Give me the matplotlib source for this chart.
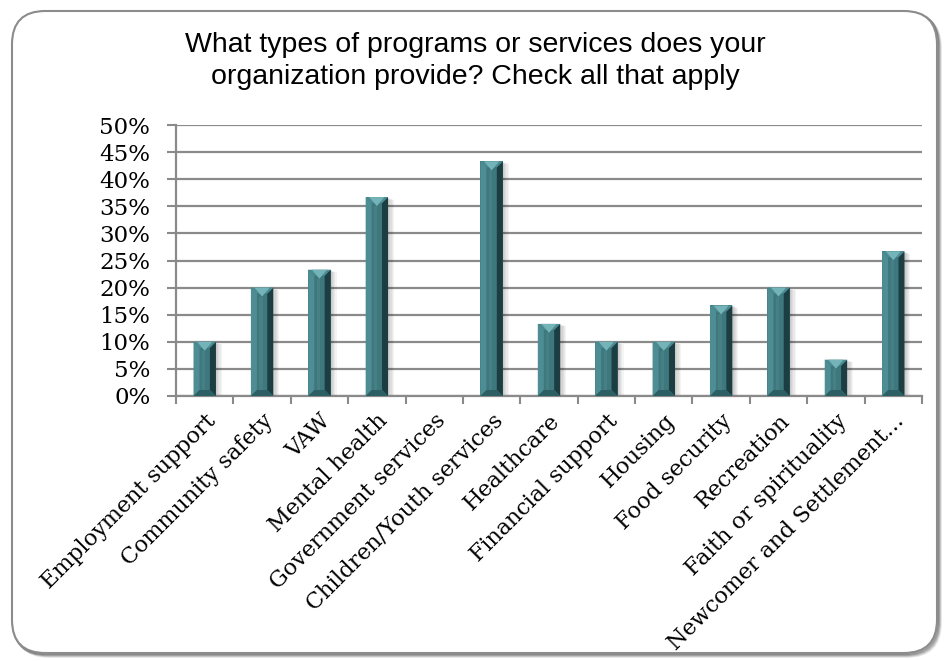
import numpy as np
import matplotlib
matplotlib.use("Agg")
import matplotlib.pyplot as plt
from matplotlib.patches import FancyBboxPatch, Polygon
from matplotlib.ticker import PercentFormatter

categories = ["Employment support", "Community safety", "VAW", "Mental health",
              "Government services", "Children/Youth services", "Healthcare",
              "Financial support", "Housing", "Food security", "Recreation",
              "Faith or spirituality", "Newcomer and Settlement..."]
values = [0.100, 0.200, 0.233, 0.367, 0.0, 0.433, 0.133,
          0.100, 0.100, 0.167, 0.200, 0.067, 0.267]
yticks = np.arange(0, 0.51, 0.05)

W, H = 951, 661
fig = plt.figure(figsize=(W / 100, H / 100), dpi=100)
fig.patch.set_facecolor("white")

# rounded chart border with a soft drop shadow
for k in range(6, 0, -1):
    sh = FancyBboxPatch((12 / W + k * 0.6 / W, 8 / H - k * 0.6 / H), 925 / W, 642 / H,
                        boxstyle="round,pad=0,rounding_size=0.035",
                        transform=fig.transFigure, facecolor="none",
                        edgecolor=(0, 0, 0, 0.06 + 0.02 * (6 - k)), linewidth=2,
                        mutation_aspect=W / H, zorder=-3)
    fig.patches.append(sh)
frame = FancyBboxPatch((12 / W, 8 / H), 925 / W, 642 / H,
                       boxstyle="round,pad=0,rounding_size=0.035",
                       transform=fig.transFigure, facecolor="white",
                       edgecolor="#8c8c8c", linewidth=1.5, mutation_aspect=W / H,
                       zorder=-2)
fig.patches.append(frame)

ax = fig.add_axes([176 / W, 1 - 396 / H, (922 - 176) / W, (396 - 125) / H])
ax.set_facecolor("none")
x = np.arange(len(categories))
bw = 0.39
ax.set_xlim(-0.5, len(categories) - 0.5)
ax.set_ylim(0, 0.5)

# pixel -> data unit conversions for the bevel drawing
px_x = (len(categories)) / (922 - 176)
px_y = 0.5 / (396 - 125)
bx, by = 6 * px_x, 6 * px_y

for xi, v in zip(x, values):
    if v <= 0:
        continue
    l, r = xi - bw / 2, xi + bw / 2
    # soft shadow to the right
    for k in range(1, 6):
        ax.bar(xi + k * 1.2 * px_x, v - k * 0.5 * px_y, width=bw, bottom=0,
               color=(0, 0, 0, 0.045), linewidth=0, zorder=2)
    ax.bar(xi, v, width=bw, color="#3c787e", linewidth=0, zorder=3)
    # left face, right face
    ax.add_patch(Polygon([(l, 0), (l + bx, by), (l + bx, v - by), (l, v)],
                         closed=True, facecolor="#4d8d93", lw=0, zorder=4))
    ax.add_patch(Polygon([(r, 0), (r - bx, by), (r - bx, v - by), (r, v)],
                         closed=True, facecolor="#1c3d42", lw=0, zorder=4))
    # top bevel with light triangle
    ax.add_patch(Polygon([(l, v), (r, v), (r - bx, v - by), (l + bx, v - by)],
                         closed=True, facecolor="#4b8b91", lw=0, zorder=4))
    ax.add_patch(Polygon([(l + bx * 0.6, v), (r - bx * 0.6, v), (xi, v - 1.5 * by)],
                         closed=True, facecolor="#74b3b8", lw=0, zorder=5))
    # bottom bevel
    ax.add_patch(Polygon([(l, 0), (r, 0), (r - bx, by), (l + bx, by)],
                         closed=True, facecolor="#2c5f64", lw=0, zorder=4))
    # inner highlight stripe
    ax.add_patch(Polygon([(xi - bw * 0.12, by), (xi + bw * 0.02, by),
                          (xi + bw * 0.02, v - 1.5 * by), (xi - bw * 0.12, v - 1.5 * by)],
                         closed=True, facecolor=(1, 1, 1, 0.06), lw=0, zorder=4))

ax.set_yticks(yticks)
ax.yaxis.set_major_formatter(PercentFormatter(1.0, decimals=0))
ax.yaxis.grid(True, color="#8a8a8a", linewidth=1.6, zorder=0)
ax.set_axisbelow(True)

ax.set_xticks(x)
ax.set_xticklabels(categories, rotation=45, ha="right", rotation_mode="anchor",
                   family="DejaVu Serif", fontsize=16)
ax.set_xticks(np.arange(-0.5, len(categories), 1.0), minor=True)
ax.tick_params(axis="x", which="major", length=0, pad=10)
ax.tick_params(axis="x", which="minor", length=6, width=1.5, color="#8a8a8a")
ax.tick_params(axis="y", length=6.5, width=1.5, color="#8a8a8a", pad=12)
for lab in ax.get_yticklabels():
    lab.set_family("DejaVu Serif")
    lab.set_fontsize(16.5)

for s in ["top", "right"]:
    ax.spines[s].set_visible(False)
for s in ["left", "bottom"]:
    ax.spines[s].set_color("#8a8a8a")
    ax.spines[s].set_linewidth(1.6)

fig.text(0.5, 1 - 61 / H, "What types of programs or services does your\norganization provide? Check all that apply",
         ha="center", va="center", family="Liberation Sans", fontsize=20.5, linespacing=1.35)

fig.savefig("out.png", dpi=100, facecolor="white")
